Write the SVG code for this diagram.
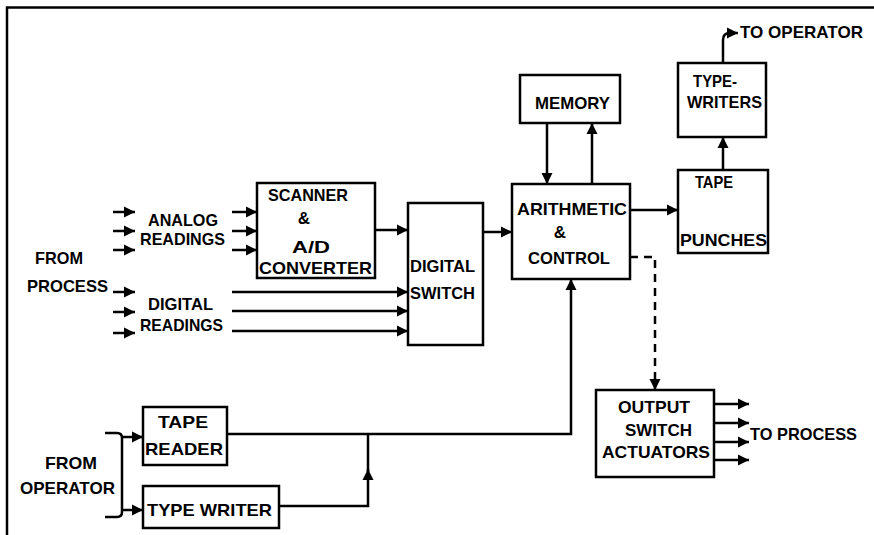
<svg xmlns="http://www.w3.org/2000/svg" width="874" height="535" viewBox="0 0 874 535">
<style>
  .box { fill: #ffffff; stroke: #000; stroke-width: 2.5; }
  .ln { fill: none; stroke: #000; stroke-width: 2.5; }
  .dash { fill: none; stroke: #000; stroke-width: 2.5; stroke-dasharray: 8 6; }
  text { font-family: "Liberation Sans", Arial, sans-serif; font-weight: bold; font-size: 17px; fill: #000; }
</style>
<defs>
  <marker id="ah" markerUnits="userSpaceOnUse" markerWidth="13" markerHeight="13" viewBox="0 0 13 13" refX="12" refY="6.5" orient="auto">
    <path d="M1 1 L12 6.5 L1 12 Z" fill="#000"/>
  </marker>
</defs>
<rect x="0" y="0" width="874" height="535" fill="#fff"/>
<g id="frame">
  <path class="ln" d="M7 535 V7.5 H874"/>
</g>
<g id="connectors">
  <!-- analog inputs -->
  <path class="ln" d="M113 212 H135" marker-end="url(#ah)"/>
  <path class="ln" d="M113 231 H135" marker-end="url(#ah)"/>
  <path class="ln" d="M113 250 H135" marker-end="url(#ah)"/>
  <path class="ln" d="M232 212 H257" marker-end="url(#ah)"/>
  <path class="ln" d="M232 231 H257" marker-end="url(#ah)"/>
  <path class="ln" d="M232 250 H257" marker-end="url(#ah)"/>
  <!-- digital inputs -->
  <path class="ln" d="M113 292 H135" marker-end="url(#ah)"/>
  <path class="ln" d="M113 312 H135" marker-end="url(#ah)"/>
  <path class="ln" d="M113 333 H135" marker-end="url(#ah)"/>
  <path class="ln" d="M232 292 H408" marker-end="url(#ah)"/>
  <path class="ln" d="M232 311 H408" marker-end="url(#ah)"/>
  <path class="ln" d="M232 331 H408" marker-end="url(#ah)"/>
  <!-- scanner to digital switch -->
  <path class="ln" d="M375 230 H408" marker-end="url(#ah)"/>
  <!-- digital switch to arithmetic -->
  <path class="ln" d="M483 232 H512" marker-end="url(#ah)"/>
  <!-- memory <-> arithmetic -->
  <path class="ln" d="M547 123 V184" marker-end="url(#ah)"/>
  <path class="ln" d="M592 184 V123" marker-end="url(#ah)"/>
  <!-- arithmetic to tape punches -->
  <path class="ln" d="M630 210 H678" marker-end="url(#ah)"/>
  <!-- tape punches to typewriters -->
  <path class="ln" d="M723 170 V137" marker-end="url(#ah)"/>
  <!-- typewriters to operator -->
  <path class="ln" d="M723 63 V40 Q723 33 730 33 H738" marker-end="url(#ah)"/>
  <!-- dashed to output switch -->
  <path class="dash" d="M630 257 H655 V390" marker-end="url(#ah)"/>
  <!-- outputs to process -->
  <path class="ln" d="M714 404 H749" marker-end="url(#ah)"/>
  <path class="ln" d="M714 423 H749" marker-end="url(#ah)"/>
  <path class="ln" d="M714 442 H749" marker-end="url(#ah)"/>
  <path class="ln" d="M714 460 H749" marker-end="url(#ah)"/>
  <!-- from operator bracket -->
  <path class="ln" d="M105 433 H117 Q122 433 122 438 V512 Q122 517 117 517 H105"/>
  <path class="ln" d="M122 437 H143" marker-end="url(#ah)"/>
  <path class="ln" d="M122 510 H143" marker-end="url(#ah)"/>
  <!-- tape reader to arithmetic -->
  <path class="ln" d="M227 434 H571 V279" marker-end="url(#ah)"/>
  <!-- type writer to junction -->
  <path class="ln" d="M279 506 H368 V469" marker-end="url(#ah)"/>
  <path class="ln" d="M368 472 V434"/>
</g>
<g id="labels">
  <text x="148" y="226" textLength="70" lengthAdjust="spacingAndGlyphs">ANALOG</text>
  <text x="140" y="245" textLength="85" lengthAdjust="spacingAndGlyphs">READINGS</text>
  <text x="148" y="310" textLength="65" lengthAdjust="spacingAndGlyphs">DIGITAL</text>
  <text x="140" y="331" textLength="83" lengthAdjust="spacingAndGlyphs">READINGS</text>
  <text x="35" y="264" textLength="48" lengthAdjust="spacingAndGlyphs">FROM</text>
  <text x="27" y="292" textLength="81" lengthAdjust="spacingAndGlyphs">PROCESS</text>
  <text x="45" y="469" textLength="52" lengthAdjust="spacingAndGlyphs">FROM</text>
  <text x="20" y="494" textLength="95" lengthAdjust="spacingAndGlyphs">OPERATOR</text>
  <text x="740" y="38" textLength="123" lengthAdjust="spacingAndGlyphs" font-size="15">TO OPERATOR</text>
  <text x="750" y="440" textLength="107" lengthAdjust="spacingAndGlyphs">TO PROCESS</text>
</g>
<g id="scanner">
  <rect class="box" x="257" y="183" width="118" height="95"/>
  <text x="268" y="201" textLength="80" lengthAdjust="spacingAndGlyphs">SCANNER</text>
  <text x="304" y="224" text-anchor="middle">&amp;</text>
  <text x="292" y="253" textLength="38" lengthAdjust="spacingAndGlyphs">A/D</text>
  <text x="259" y="274" textLength="113" lengthAdjust="spacingAndGlyphs">CONVERTER</text>
</g>
<g id="digital-switch">
  <rect class="box" x="408" y="203" width="75" height="142"/>
  <text x="410" y="272" textLength="65" lengthAdjust="spacingAndGlyphs">DIGITAL</text>
  <text x="410" y="299" textLength="65" lengthAdjust="spacingAndGlyphs">SWITCH</text>
</g>
<g id="memory">
  <rect class="box" x="520" y="75" width="100" height="48"/>
  <text x="535" y="109" textLength="75" lengthAdjust="spacingAndGlyphs">MEMORY</text>
</g>
<g id="arithmetic-control">
  <rect class="box" x="512" y="184" width="118" height="95"/>
  <text x="517" y="215" textLength="110" lengthAdjust="spacingAndGlyphs">ARITHMETIC</text>
  <text x="560" y="238" text-anchor="middle">&amp;</text>
  <text x="528" y="264" textLength="82" lengthAdjust="spacingAndGlyphs">CONTROL</text>
</g>
<g id="typewriters">
  <rect class="box" x="678" y="63" width="88" height="74"/>
  <text x="693" y="87" textLength="44" lengthAdjust="spacingAndGlyphs" font-size="14">TYPE-</text>
  <text x="687" y="108" textLength="75" lengthAdjust="spacingAndGlyphs" font-size="14">WRITERS</text>
</g>
<g id="tape-punches">
  <rect class="box" x="678" y="170" width="90" height="83"/>
  <text x="695" y="188" textLength="38" lengthAdjust="spacingAndGlyphs">TAPE</text>
  <text x="680" y="246" textLength="87" lengthAdjust="spacingAndGlyphs">PUNCHES</text>
</g>
<g id="output-switch-actuators">
  <rect class="box" x="596" y="390" width="118" height="87"/>
  <text x="618" y="413" textLength="72" lengthAdjust="spacingAndGlyphs">OUTPUT</text>
  <text x="625" y="436" textLength="67" lengthAdjust="spacingAndGlyphs">SWITCH</text>
  <text x="602" y="458" textLength="108" lengthAdjust="spacingAndGlyphs">ACTUATORS</text>
</g>
<g id="tape-reader">
  <rect class="box" x="143" y="407" width="84" height="58"/>
  <text x="158" y="428" textLength="50" lengthAdjust="spacingAndGlyphs">TAPE</text>
  <text x="145" y="455" textLength="78" lengthAdjust="spacingAndGlyphs">READER</text>
</g>
<g id="type-writer">
  <rect class="box" x="143" y="486" width="136" height="42"/>
  <text x="147" y="516" textLength="125" lengthAdjust="spacingAndGlyphs">TYPE WRITER</text>
</g>
</svg>
